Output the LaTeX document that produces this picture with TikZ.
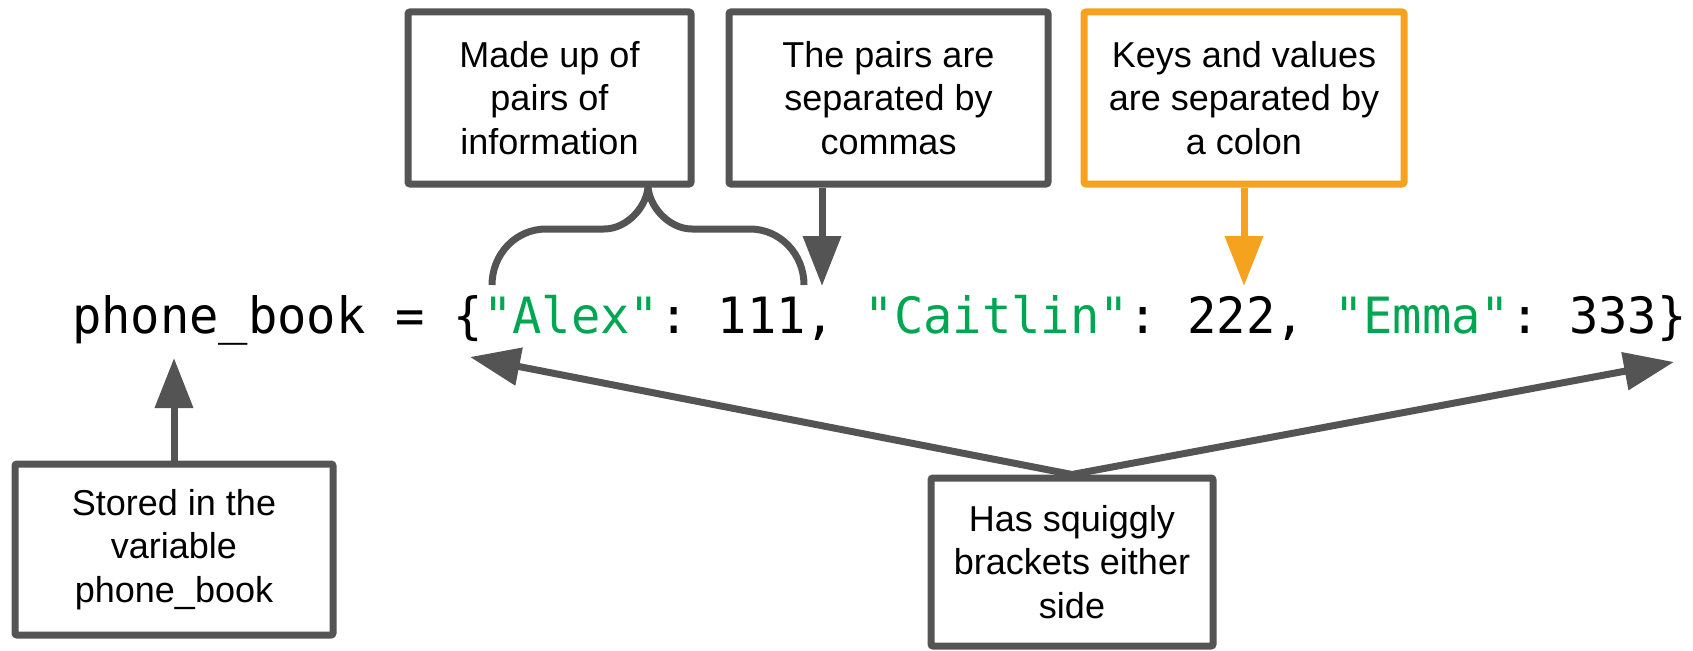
\documentclass[tikz,border=0pt]{standalone}
\usepackage{fontspec}
\usetikzlibrary{arrows.meta}
\newfontfamily\labfont{Liberation Sans}
\newfontfamily\codefont[FakeStretch=0.975]{DejaVu Sans Mono}
\definecolor{lineg}{HTML}{545454}
\definecolor{codeg}{HTML}{00A651}
\definecolor{orng}{HTML}{F5A21F}
\newcommand\dq{\char34 }
\tikzset{
  box/.style={draw=lineg, line width=7pt, rounded corners=2pt, fill=white,
    align=center, font=\labfont\fontsize{36}{43.5}\selectfont, inner sep=0pt},
  obox/.style={box, draw=orng},
  tipshape/.style={},
  arr/.style={draw=lineg, line width=7pt, -{Triangle[length=50pt,width=37pt]}},
  oarr/.style={draw=orng, line width=7pt, -{Triangle[length=50pt,width=37pt]}},
  bracepath/.style={draw=lineg, line width=7pt},
  codetext/.style={anchor=base west, inner sep=0pt, font=\codefont\fontsize{50}{60}\selectfont}
}
\begin{document}
\begin{tikzpicture}[x=1pt,y=-1pt]
\useasboundingbox (0,0) rectangle (1693,650);

% code line
\node[codetext] (code) at (72,333) {\frenchspacing phone\_book = \{\textcolor{codeg}{\dq Alex\dq}: 111, \textcolor{codeg}{\dq Caitlin\dq}: 222, \textcolor{codeg}{\dq Emma\dq}: 333\}};

% boxes
\node[box, minimum width=283pt, minimum height=172pt] (made) at (549.5,98) {Made up of\\pairs of\\information};
\node[box, minimum width=319pt, minimum height=172pt] (pairs) at (888.5,98) {The pairs are\\separated by\\commas};
\node[obox, minimum width=320pt, minimum height=172pt] (keys) at (1244,98) {Keys and values\\are separated by\\a colon};
\node[box, minimum width=318pt, minimum height=171pt] (stored) at (174,549.5) {Stored in the\\variable\\phone\_book};
\node[box, minimum width=282pt, minimum height=168pt] (squig) at (1072,562) {Has squiggly\\brackets either\\side};

% free ends
\coordinate (tipP) at (822,286);
\coordinate (tipK) at (1244,286);
\coordinate (tipS) at (174,358);
\coordinate (tipL) at (470,357);
\coordinate (tipR) at (1674,362);
\coordinate (peak) at (648,185);

% connectors
\draw[arr] (tipP |- pairs.south) -- (tipP);
\draw[oarr] (keys.south) -- (tipK);
\draw[arr] (stored.north) -- (tipS);
\draw[draw=lineg, line width=7pt, line join=miter,
  {Triangle[length=50pt,width=37pt]}-{Triangle[length=50pt,width=37pt]}]
  (tipL) -- (squig.north) -- (tipR);

% brace
\draw[bracepath] (492,285) .. controls (492,254) and (516,229) .. (546,229)
  -- (604,229) .. controls (628,229) and (648,205) .. (peak)
  .. controls (648,205) and (668,229) .. (692,229)
  -- (750,229) .. controls (780,229) and (804,254) .. (804,285);
\end{tikzpicture}
\end{document}
